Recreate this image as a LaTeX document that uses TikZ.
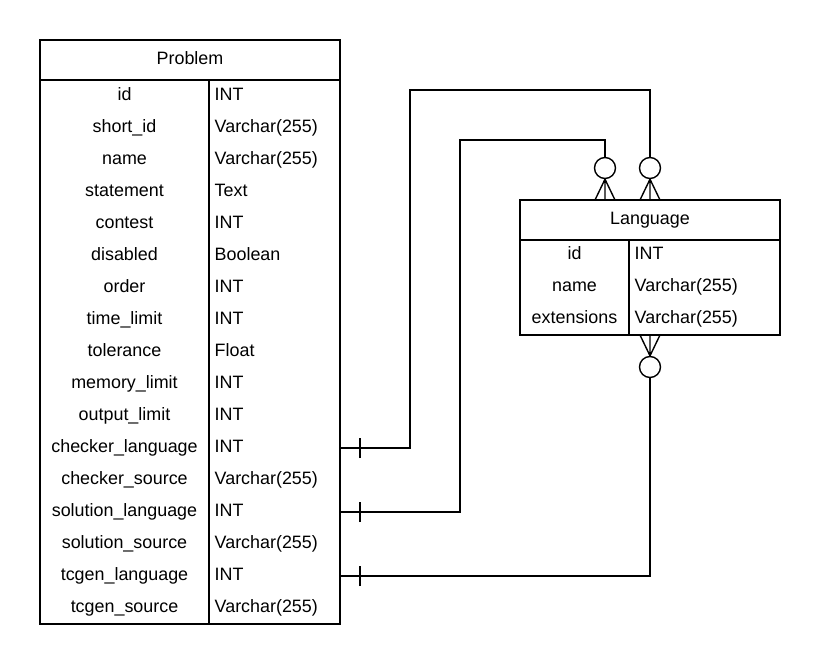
\documentclass[tikz,border=0pt]{standalone}
\usepackage{fontspec}
\setmainfont{Liberation Sans}
\begin{document}
\begin{tikzpicture}[x=1pt,y=-1pt,line width=1.4pt,
  cellname/.style={anchor=base,inner sep=0pt,font=\fontsize{17.9}{20}\selectfont},
  celltype/.style={anchor=base west,inner sep=0pt,font=\fontsize{17.9}{20}\selectfont},
  ringmark/.style={circle,draw,fill=white,minimum size=21pt,inner sep=0pt,line width=1.4pt}]
\useasboundingbox (0,0) rectangle (820,664);
% Problem table
\draw (40,40) rectangle (340,624);
\draw (40,80) -- (340,80);
\draw (209,80) -- (209,624);
\node[cellname] (probhead) at (190,64) {Problem};
\foreach \n/\t [count=\i from 0] in {id/INT,short\_id/Varchar(255),name/Varchar(255),statement/Text,contest/INT,disabled/Boolean,order/INT,time\_limit/INT,tolerance/Float,memory\_limit/INT,output\_limit/INT,checker\_language/INT,checker\_source/Varchar(255),solution\_language/INT,solution\_source/Varchar(255),tcgen\_language/INT,tcgen\_source/Varchar(255)} {
  \node[cellname] (pn\i) at (124.5,{100+32*\i}) {\n};
  \node[celltype] (pt\i) at (214,{100+32*\i}) {\t};
  \coordinate (pe\i) at (340,{96+32*\i});
}
% Language table
\draw (520,200) rectangle (780,335);
\draw (520,240) -- (780,240);
\draw (629,240) -- (629,335);
\node[cellname] (langhead) at (650,224) {Language};
\foreach \n/\t [count=\i from 0] in {id/INT,name/Varchar(255),extensions/Varchar(255)} {
  \node[cellname] (ln\i) at (574.5,{259+32*\i}) {\n};
  \node[celltype] (lt\i) at (634,{259+32*\i}) {\t};
}
\coordinate (lta) at (605,200);
\coordinate (ltb) at (650,200);
\coordinate (lbb) at (650,335);
% rings
\node[ringmark] (ra) at (605,168) {};
\node[ringmark] (rb) at (650,168) {};
\node[ringmark] (rc) at (650,367) {};
% connectors
\draw (pe11) -| (410,90) -| (rb.north);
\draw (pe13) -| (460,140) -| (ra.north);
\draw (pe15) -| (rc.south);
% ticks
\foreach \k in {11,13,15} { \draw ([xshift=20pt,yshift=-10pt]pe\k) -- ([xshift=20pt,yshift=10pt]pe\k); }
% crow feet
\draw (ra.south) -- ([xshift=-10pt]lta) (ra.south) -- (lta) (ra.south) -- ([xshift=10pt]lta);
\draw (rb.south) -- ([xshift=-10pt]ltb) (rb.south) -- (ltb) (rb.south) -- ([xshift=10pt]ltb);
\draw (rc.north) -- ([xshift=-10pt]lbb) (rc.north) -- (lbb) (rc.north) -- ([xshift=10pt]lbb);
\end{tikzpicture}
\end{document}
